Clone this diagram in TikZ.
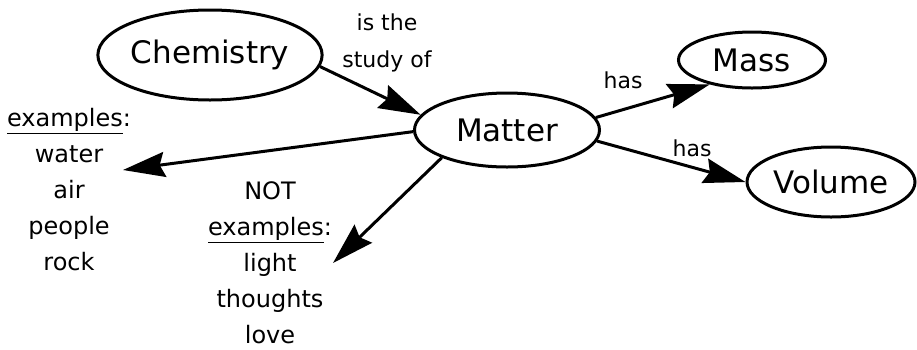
\documentclass[tikz,border=0pt]{standalone}
\usepackage{fontspec}
\setmainfont{DejaVu Sans}
\usetikzlibrary{shapes,arrows.meta,positioning}

\tikzset{
  concept/.style={ellipse,draw,line width=3pt,inner sep=0pt,font=\fontsize{31}{36}\selectfont},
  link/.style={line width=3pt,-{Stealth[length=42pt,width=25pt,inset=5pt]}},
  words/.style={align=center,inner sep=0pt,font=\fontsize{24}{36}\selectfont},
  linkname/.style={align=center,inner sep=0pt,font=\fontsize{22}{37}\selectfont}
}

\begin{document}
\begin{tikzpicture}[x=1pt,y=-1pt]
  \useasboundingbox (0,0) rectangle (917,349);
  \node[concept,minimum width=210pt,minimum height=90pt] (chem) at (210,55) {Chemistry};
  \node[concept,minimum width=185pt,minimum height=74pt] (matter) at (507,130) {Matter};
  \node[concept,minimum width=147pt,minimum height=56pt] (mass) at (752,60) {Mass};
  \node[concept,minimum width=168pt,minimum height=70pt] (volume) at (831,182) {Volume};
  \node[linkname] (study) at (387,43) {is the\\study of};
  \node[linkname] (has1) at (623,80) {has};
  \node[linkname] (has2) at (692,148) {has};
  \node[words] (yes) at (69,190) {\underline{examples}:\\water\\air\\people\\rock};
  \node[words] (no) at (270,263) {NOT\\\underline{examples}:\\light\\thoughts\\love};
  \coordinate (yestip) at (123,170);
  \coordinate (notip) at (333,263);
  \draw[link] (chem.-6) -- (matter.170);
  \draw[link] (matter.8) -- (mass.210);
  \draw[link] (matter.-7) -- (volume.180);
  \draw[link] (matter.181) -- (yestip);
  \draw[link] (matter.203) -- (notip);
\end{tikzpicture}
\end{document}
